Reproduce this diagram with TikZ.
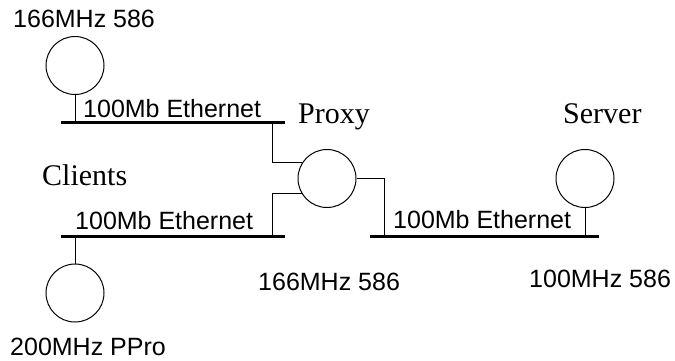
\documentclass[tikz,border=0pt]{standalone}
\usepackage{fontspec}
\setmainfont{Liberation Serif}
\setsansfont{Liberation Sans}
\begin{document}
\begin{tikzpicture}[x=1pt,y=-1pt,
  host/.style={draw,circle,minimum size=58pt,inner sep=0pt,line width=1pt},
  wire/.style={line width=1pt},
  bus/.style={line width=3pt},
  lbl/.style={anchor=base west,inner sep=0pt,font=\sffamily\fontsize{25}{30}\selectfont},
  role/.style={anchor=base west,inner sep=0pt,font=\rmfamily\fontsize{30}{36}\selectfont}]
\useasboundingbox (0,0) rectangle (675,360);
% hosts
\node[host] (c1) at (75,65.5) {};
\node[host] (c2) at (75,293) {};
\node[host] (proxy) at (327,178.5) {};
\node[host] (server) at (585,178.5) {};
% bus endpoints
\coordinate (b1w) at (61,122); \coordinate (b1e) at (285,122);
\coordinate (b2w) at (61,236); \coordinate (b2e) at (285,236);
\coordinate (b3w) at (370,236); \coordinate (b3e) at (599,236);
\coordinate (j1) at (272,122);
\coordinate (j2) at (272,236);
\coordinate (j3) at (384,236);
% buses
\draw[bus] (b1w) -- (b1e);
\draw[bus] (b2w) -- (b2e);
\draw[bus] (b3w) -- (b3e);
% connectors
\draw[wire] (c1.south) -- (c1.south |- b1w);
\draw[wire] (c2.north) -- (c2.north |- b2w);
\draw[wire] (server.south) -- (server.south |- b3w);
\draw[wire] (proxy.148) -| (j1);
\draw[wire] (proxy.211) -| (j2);
\draw[wire] (proxy.east) -| (j3);
% labels
\node[lbl] (t1) at (13,27) {166MHz 586};
\node[lbl] (e1) at (83,117) {100Mb Ethernet};
\node[lbl] (e2) at (75,229) {100Mb Ethernet};
\node[lbl] (e3) at (393,228) {100Mb Ethernet};
\node[lbl] (t2) at (258,290) {166MHz 586};
\node[lbl] (t3) at (529,287) {100MHz 586};
\node[lbl] (t4) at (10,355) {200MHz PPro};
\node[role] (r1) at (298,123) {Proxy};
\node[role] (r2) at (563,123) {Server};
\node[role] (r3) at (42,185) {Clients};
\end{tikzpicture}
\end{document}
